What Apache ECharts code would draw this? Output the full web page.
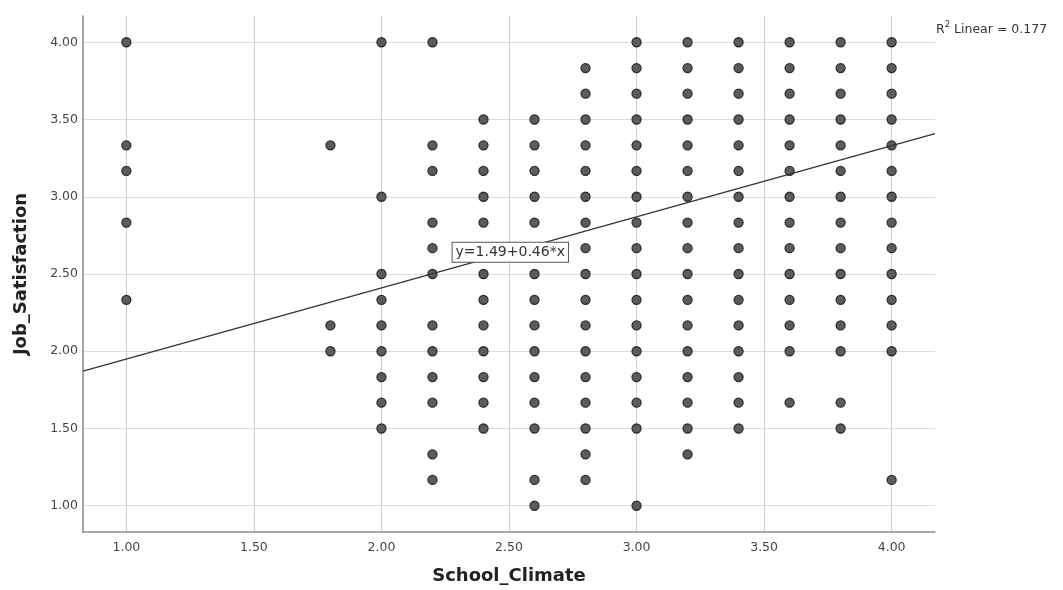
<!DOCTYPE html>
<html>
<head>
<meta charset="utf-8">
<script src="https://cdn.jsdelivr.net/npm/echarts@6/dist/echarts.min.js"></script>
<style>
html,body{margin:0;padding:0;background:#fff;}
#chart{width:1063px;height:590px;}
</style>
</head>
<body>
<div id="chart"></div>
<script>
// School_Climate values (x) and the Job_Satisfaction values (y) observed at each
const xColumns = [1.0, 1.8, 2.0, 2.2, 2.4, 2.6, 2.8, 3.0, 3.2, 3.4, 3.6, 3.8, 4.0];
const col100 = [4.0, 3.333, 3.167, 2.833, 2.333];
const col180 = [3.333, 2.167, 2.0];
const col200 = [4.0, 3.0, 2.5, 2.333, 2.167, 2.0, 1.833, 1.667, 1.5];
const col220 = [4.0, 3.333, 3.167, 2.833, 2.667, 2.5, 2.167, 2.0, 1.833, 1.667, 1.333, 1.167];
const col240 = [3.5, 3.333, 3.167, 3.0, 2.833, 2.5, 2.333, 2.167, 2.0, 1.833, 1.667, 1.5];
const col260 = [3.5, 3.333, 3.167, 3.0, 2.833, 2.5, 2.333, 2.167, 2.0, 1.833, 1.667, 1.5, 1.167, 1.0];
const col280 = [3.833, 3.667, 3.5, 3.333, 3.167, 3.0, 2.833, 2.667, 2.5, 2.333, 2.167, 2.0, 1.833, 1.667, 1.5, 1.333, 1.167];
const col300 = [4.0, 3.833, 3.667, 3.5, 3.333, 3.167, 3.0, 2.833, 2.667, 2.5, 2.333, 2.167, 2.0, 1.833, 1.667, 1.5, 1.0];
const col320 = [4.0, 3.833, 3.667, 3.5, 3.333, 3.167, 3.0, 2.833, 2.667, 2.5, 2.333, 2.167, 2.0, 1.833, 1.667, 1.5, 1.333];
const col340 = [4.0, 3.833, 3.667, 3.5, 3.333, 3.167, 3.0, 2.833, 2.667, 2.5, 2.333, 2.167, 2.0, 1.833, 1.667, 1.5];
const col360 = [4.0, 3.833, 3.667, 3.5, 3.333, 3.167, 3.0, 2.833, 2.667, 2.5, 2.333, 2.167, 2.0, 1.667];
const col380 = [4.0, 3.833, 3.667, 3.5, 3.333, 3.167, 3.0, 2.833, 2.667, 2.5, 2.333, 2.167, 2.0, 1.667, 1.5];
const col400 = [4.0, 3.833, 3.667, 3.5, 3.333, 3.167, 3.0, 2.833, 2.667, 2.5, 2.333, 2.167, 2.0, 1.167];
const yColumns = [col100, col180, col200, col220, col240, col260, col280, col300, col320, col340, col360, col380, col400];

// Fit line
const intercept = 1.49;
const slope = 0.46;
const rSquared = 0.177;
const eqLabel = 'y=1.49+0.46*x';
const eqAnchor = [2.505, 2.64];

// Axis ranges and ticks
const xMin = 0.83, xMax = 4.17;
const yMin = 0.83, yMax = 4.17;
const xTicks = [1.0, 1.5, 2.0, 2.5, 3.0, 3.5, 4.0];
const yTicks = [1.0, 1.5, 2.0, 2.5, 3.0, 3.5, 4.0];

const points = [];
xColumns.forEach((x, i) => yColumns[i].forEach(y => points.push([x, y])));
const fitLine = [[xMin, intercept + slope * xMin], [xMax, intercept + slope * xMax]];

const chart = echarts.init(document.getElementById('chart'), null, {renderer: 'canvas'});
const fontFam = 'DejaVu Sans';
chart.setOption({
  animation: false,
  backgroundColor: '#ffffff',
  grid: {left: 83, right: 128, top: 16, bottom: 56, containLabel: false},
  xAxis: {
    type: 'value', min: xMin, max: xMax,
    name: 'School_Climate', nameLocation: 'middle', nameGap: 35,
    nameTextStyle: {fontFamily: fontFam, fontWeight: 'bold', fontSize: 18, color: '#222'},
    axisLine: {show: true, onZero: false, lineStyle: {color: '#8a8a8a', width: 1.5}},
    axisTick: {show: false, customValues: xTicks},
    axisLabel: {customValues: xTicks, formatter: v => v.toFixed(2), fontFamily: fontFam, fontSize: 12.5, color: '#444', margin: 9},
    splitLine: {show: true, lineStyle: {color: '#cfcfcf', width: 1}}
  },
  yAxis: {
    type: 'value', min: yMin, max: yMax,
    name: 'Job_Satisfaction', nameLocation: 'middle', nameGap: 53, nameRotate: 90,
    nameTextStyle: {fontFamily: fontFam, fontWeight: 'bold', fontSize: 18, color: '#222'},
    axisLine: {show: true, onZero: false, lineStyle: {color: '#8a8a8a', width: 1.5}},
    axisTick: {show: false, customValues: yTicks},
    axisLabel: {customValues: yTicks, formatter: v => v.toFixed(2), fontFamily: fontFam, fontSize: 12.5, color: '#444', margin: 5},
    splitLine: {show: true, lineStyle: {color: '#dcdcdc', width: 1}}
  },
  series: [
    {
      type: 'scatter', data: points, symbolSize: 9,
      itemStyle: {color: '#5c5c5c', borderColor: '#2e2e2e', borderWidth: 1.3, opacity: 1},
      z: 3
    },
    {
      type: 'line', data: fitLine, showSymbol: false, symbol: 'none',
      lineStyle: {color: '#333', width: 1.2}, z: 4, silent: true,
      markPoint: {
        symbol: 'rect', symbolSize: 0, silent: true,
        data: [{coord: eqAnchor, value: eqLabel}],
        label: {
          show: true, formatter: eqLabel, position: 'inside',
          fontFamily: fontFam, fontSize: 14, color: '#333',
          backgroundColor: '#fff', borderColor: '#555', borderWidth: 1,
          padding: [3, 3, 2, 3]
        },
        z: 10
      }
    }
  ],
  graphic: [{
    type: 'text', left: 936, top: 20,
    style: {
      text: '{r|R}{s|2}{r| Linear = ' + rSquared + '}',
      rich: {
        r: {fontFamily: fontFam, fontSize: 12.5, fill: '#333', verticalAlign: 'bottom'},
        s: {fontFamily: fontFam, fontSize: 8.5, fill: '#333', verticalAlign: 'top', padding: [0, 0, 7, 0]}
      }
    }
  }]
});
</script>
</body>
</html>
